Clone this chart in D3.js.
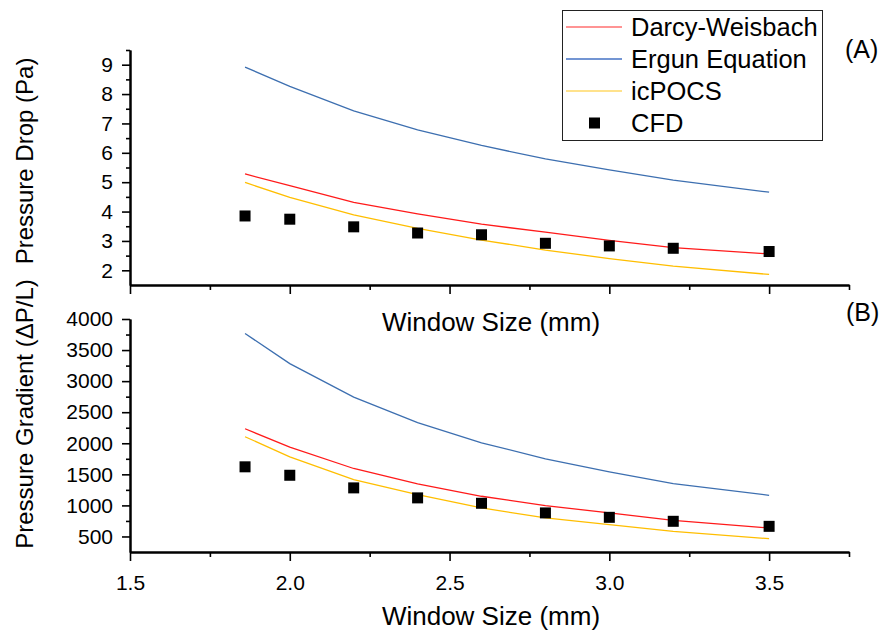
<!DOCTYPE html>
<html>
<head>
<meta charset="utf-8">
<script src="https://cdn.jsdelivr.net/npm/d3@7"></script>
<style>
  body { margin: 0; background: #fff; }
  text { font-family: "Liberation Sans", Arial, sans-serif; fill: #000; }
</style>
</head>
<body>
<svg width="882" height="633"></svg>
<script>
// values
var windowSize = [1.86, 2.0, 2.2, 2.4, 2.6, 2.8, 3.0, 3.2, 3.5];

var dropDarcy  = [5.28, 4.88, 4.31, 3.92, 3.57, 3.30, 3.02, 2.77, 2.56];
var dropErgun  = [8.92, 8.26, 7.43, 6.78, 6.25, 5.79, 5.42, 5.07, 4.66];
var dropIcpocs = [4.99, 4.48, 3.89, 3.43, 3.03, 2.69, 2.40, 2.14, 1.86];
var dropCFD    = [3.85, 3.74, 3.48, 3.27, 3.21, 2.92, 2.83, 2.75, 2.64];

var gradDarcy  = [2234, 1937, 1594, 1347, 1147, 997, 879, 760, 637];
var gradErgun  = [3766, 3282, 2744, 2331, 2008, 1750, 1540, 1352, 1163];
var gradIcpocs = [2105, 1782, 1416, 1174, 960, 798, 690, 582, 464];
var gradCFD    = [1621, 1485, 1282, 1121, 1034, 879, 808, 744, 663];

var xTicks = [1.5, 2.0, 2.5, 3.0, 3.5];
var xMinor = [1.75, 2.25, 2.75, 3.25, 3.75];
var dropTicks = [2, 3, 4, 5, 6, 7, 8, 9];
var dropMinor = [2.5, 3.5, 4.5, 5.5, 6.5, 7.5, 8.5, 9.5];
var gradTicks = [500, 1000, 1500, 2000, 2500, 3000, 3500, 4000];
var gradMinor = [750, 1250, 1750, 2250, 2750, 3250, 3750];

var legendNames = ['Darcy-Weisbach', 'Ergun Equation', 'icPOCS', 'CFD'];
var colors = { darcy: '#ff1a1a', ergun: '#3d6fb0', icpocs: '#ffbe00' };

var svg = d3.select('svg');
var x = d3.scaleLinear().domain([1.5, 3.75]).range([130, 849]);
var yTop = d3.scaleLinear().domain([1.5, 9.5]).range([285, 50]);
var yBot = d3.scaleLinear().domain([250, 4000]).range([552, 319]);

function drawAxes(y, yBase, majors, minors, showXLabels) {
  var g = svg.append('g');
  // x minor + major
  g.append('g').attr('transform', 'translate(0,' + yBase + ')')
    .call(d3.axisBottom(x).tickValues(xMinor).tickSize(5).tickSizeOuter(0).tickFormat(''));
  var xa = g.append('g').attr('transform', 'translate(0,' + yBase + ')')
    .call(d3.axisBottom(x).tickValues(xTicks).tickSize(9).tickSizeOuter(0).tickPadding(14)
      .tickFormat(showXLabels ? d3.format('.1f') : ''));
  xa.selectAll('text').style('font-size', '21px');
  // y minor + major
  g.append('g').attr('transform', 'translate(130,0)')
    .call(d3.axisLeft(y).tickValues(minors).tickSize(4).tickSizeOuter(0).tickFormat(''));
  var ya = g.append('g').attr('transform', 'translate(130,0)')
    .call(d3.axisLeft(y).tickValues(majors).tickSize(8).tickSizeOuter(0).tickPadding(9).tickFormat(d3.format('d')));
  ya.selectAll('text').style('font-size', '21px');
  g.selectAll('.domain').attr('stroke', '#000').attr('stroke-width', 2);
  g.selectAll('.tick line').attr('stroke', '#000').attr('stroke-width', 1.6);
}

function drawSeries(y, darcy, ergun, icpocs, cfd) {
  var line = d3.line().x(function(d) { return x(d[0]); }).y(function(d) { return y(d[1]); });
  [[ergun, colors.ergun], [darcy, colors.darcy], [icpocs, colors.icpocs]].forEach(function(s) {
    svg.append('path').datum(d3.zip(windowSize, s[0]))
      .attr('d', line).attr('fill', 'none').attr('stroke', s[1]).attr('stroke-width', 1.3);
  });
  svg.append('g').selectAll('rect').data(d3.zip(windowSize, cfd)).enter().append('rect')
    .attr('x', function(d) { return x(d[0]) - 5.5; })
    .attr('y', function(d) { return y(d[1]) - 5.5; })
    .attr('width', 11).attr('height', 11).attr('fill', '#000');
}

drawAxes(yTop, 285, dropTicks, dropMinor, false);
drawAxes(yBot, 552, gradTicks, gradMinor, true);
drawSeries(yTop, dropDarcy, dropErgun, dropIcpocs, dropCFD);
drawSeries(yBot, gradDarcy, gradErgun, gradIcpocs, gradCFD);

// titles
svg.append('text').attr('x', 491).attr('y', 331).attr('text-anchor', 'middle')
  .style('font-size', '26px').text('Window Size (mm)');
svg.append('text').attr('x', 491).attr('y', 625).attr('text-anchor', 'middle')
  .style('font-size', '26px').text('Window Size (mm)');
svg.append('text').attr('transform', 'translate(33,161) rotate(-90)').attr('text-anchor', 'middle')
  .style('font-size', '24px').text('Pressure Drop (Pa)');
svg.append('text').attr('transform', 'translate(33,414) rotate(-90)').attr('text-anchor', 'middle')
  .style('font-size', '24px').text('Pressure Gradient (\u0394P/L)');
svg.append('text').attr('x', 845).attr('y', 58).style('font-size', '25px').text('(A)');
svg.append('text').attr('x', 846).attr('y', 321).style('font-size', '25px').text('(B)');

// legend
var leg = svg.append('g');
leg.append('rect').attr('x', 562.5).attr('y', 10.5).attr('width', 260).attr('height', 130)
  .attr('fill', '#fff').attr('stroke', '#222').attr('stroke-width', 1);
var legColors = ['#ff7070', '#4472c4', '#ffd966'];
legendNames.forEach(function(name, i) {
  var cy = 27 + i * 32;
  if (i < 3) {
    leg.append('line').attr('x1', 566).attr('x2', 622).attr('y1', cy).attr('y2', cy)
      .attr('stroke', legColors[i]).attr('stroke-width', 1.5);
  } else {
    leg.append('rect').attr('x', 589).attr('y', cy - 5.5).attr('width', 11).attr('height', 11).attr('fill', '#000');
  }
  leg.append('text').attr('x', 631).attr('y', cy + 9).style('font-size', '25.5px').text(name);
});
</script>
</body>
</html>
